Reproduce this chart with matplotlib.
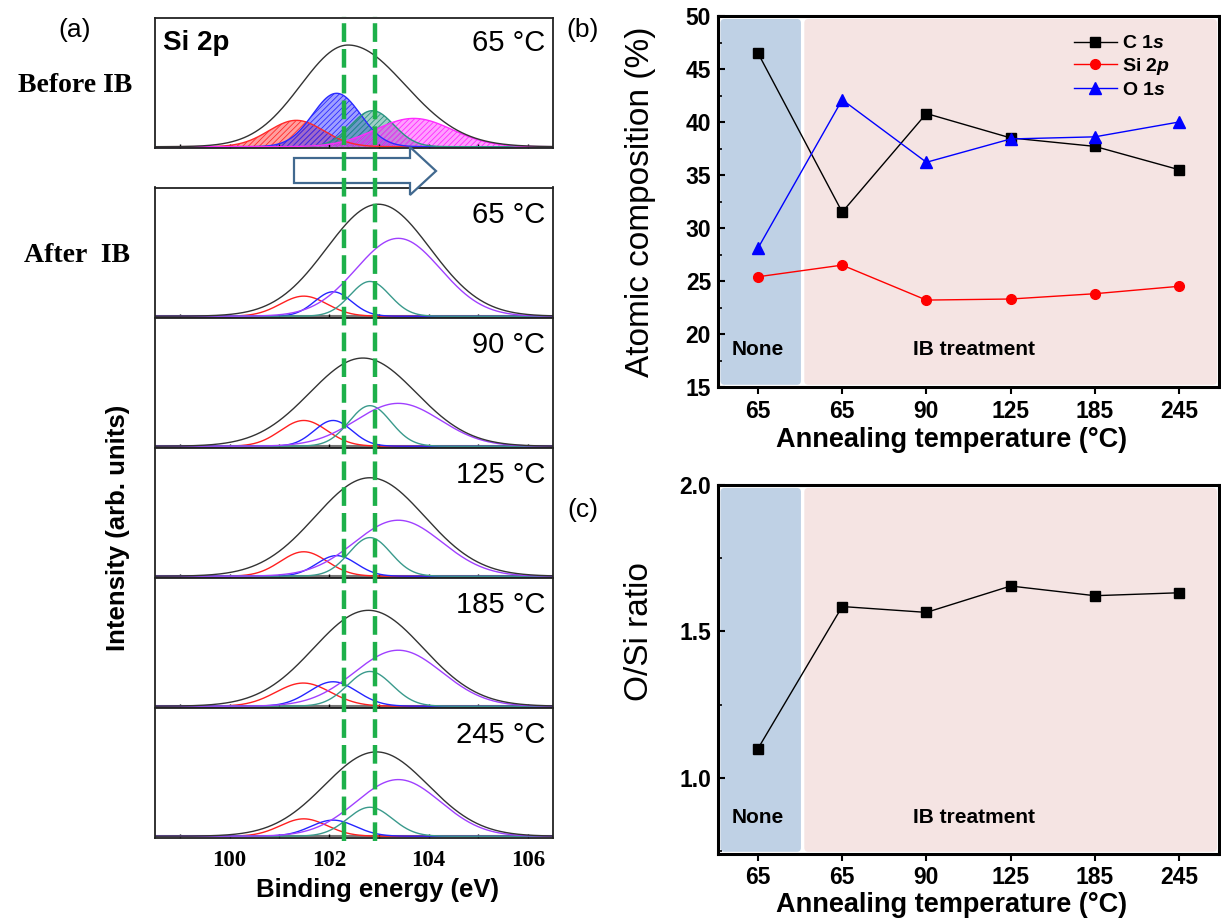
import matplotlib.pyplot as plt
import numpy as np
from matplotlib.patches import FancyBboxPatch, Polygon
from matplotlib.ticker import MultipleLocator
from matplotlib.colors import to_rgba

plt.rcParams['font.family'] = ['Liberation Sans', 'DejaVu Sans']
plt.rcParams['mathtext.fontset'] = 'custom'
plt.rcParams['mathtext.rm'] = 'Liberation Sans:bold'
plt.rcParams['mathtext.it'] = 'Liberation Sans:bold:italic'
plt.rcParams['hatch.linewidth'] = 0.6

W, H = 1221, 919

# ---------------- (a) Si 2p peak fits ----------------
# center (eV), height (fraction of panel), sigma (eV)
be_lim = (98.5, 106.5)
ref_lines = [102.3, 102.93]

# before IB (65 °C), hatched components
pre_colors = ["#ff2a2a", "#2a2aff", "#2a9482", "#ff2aff"]
pre_c = [101.34, 102.15, 102.87, 103.70]
pre_h = [0.205, 0.415, 0.28, 0.22]
pre_s = [0.55, 0.48, 0.43, 0.77]
pre_env_c, pre_env_h = 102.38, 0.79
pre_env_sl, pre_env_sr = 0.95, 1.15

# after IB, one entry per temperature
ib_temps = ["65 °C", "90 °C", "125 °C", "185 °C", "245 °C"]
env_c = [102.99, 102.68, 102.82, 102.79, 102.95]
env_h = [0.87, 0.685, 0.765, 0.745, 0.655]
env_s = [1.04, 1.07, 1.10, 1.10, 1.04]
purple_c = [103.39, 103.39, 103.39, 103.39, 103.39]
purple_h = [0.605, 0.333, 0.435, 0.435, 0.44]
purple_s = [0.85, 0.85, 0.88, 0.88, 0.85]
teal_c = [102.82, 102.82, 102.82, 102.82, 102.82]
teal_h = [0.27, 0.315, 0.30, 0.27, 0.225]
teal_s = [0.40, 0.42, 0.42, 0.45, 0.45]
blue_c = [102.08, 102.08, 102.15, 102.08, 102.08]
blue_h = [0.19, 0.20, 0.16, 0.19, 0.125]
blue_s = [0.37, 0.38, 0.40, 0.48, 0.45]
red_c = [101.49, 101.49, 101.49, 101.48, 101.49]
red_h = [0.156, 0.20, 0.19, 0.18, 0.135]
red_s = [0.47, 0.47, 0.47, 0.55, 0.47]

# ---------------- (b), (c) composition ----------------
cat_labels = ["65", "65", "90", "125", "185", "245"]
c1s = [46.5, 31.5, 40.8, 38.5, 37.7, 35.5]
si2p = [25.4, 26.5, 23.2, 23.3, 23.8, 24.5]
o1s = [28.1, 42.1, 36.2, 38.4, 38.6, 40.0]
o_si = [1.10, 1.585, 1.565, 1.655, 1.622, 1.632]


def gauss(x, c, h, s):
    return h * np.exp(-(x - c) ** 2 / (2 * s ** 2))


def px_axes(x0, y0, x1, y1):
    return fig.add_axes([x0 / W, 1 - y1 / H, (x1 - x0) / W, (y1 - y0) / H])


fig = plt.figure(figsize=(W / 100, H / 100), dpi=100)
be = np.linspace(be_lim[0], be_lim[1], 800)


def style_spec_ax(ax, last=False):
    ax.set_xlim(be_lim)
    ax.set_ylim(-0.01, 1)
    ax.set_yticks([])
    ax.xaxis.set_major_locator(MultipleLocator(2))
    ax.xaxis.set_minor_locator(MultipleLocator(1))
    ax.tick_params(axis='x', which='both', direction='in', length=3, width=1,
                   labelbottom=False)
    for sp in ax.spines.values():
        sp.set_linewidth(1.3)
        sp.set_color('#222222')
    if last:
        for t in [100, 102, 104, 106]:
            ax.text(t, -0.1, str(t), ha='center', va='top', fontsize=16.5,
                    fontweight='bold', family='Liberation Serif',
                    transform=ax.get_xaxis_transform())


# top panel, before IB
ax0 = px_axes(155, 18, 553, 148)
for col, c, h, s in zip(pre_colors, pre_c, pre_h, pre_s):
    y = gauss(be, c, h, s)
    ax0.fill_between(be, 0, y, facecolor=to_rgba(col, 0.45), edgecolor=col,
                     hatch='//////', linewidth=0)
    ax0.plot(be, y, color=col, lw=1)
env = np.where(be < pre_env_c,
               gauss(be, pre_env_c, pre_env_h, pre_env_sl),
               gauss(be, pre_env_c, pre_env_h, pre_env_sr))
ax0.plot(be, env, color='#333333', lw=1)
style_spec_ax(ax0)
ax0.text(0.02, 0.81, "Si 2p", transform=ax0.transAxes, ha='left', va='center',
         fontsize=20, fontweight='bold')
ax0.text(0.98, 0.81, "65 °C", transform=ax0.transAxes, ha='right', va='center',
         fontsize=21)

# after IB panels
for k, temp in enumerate(ib_temps):
    ax = px_axes(155, 187.5 + 130 * k, 553, 317.5 + 130 * k)
    ax.plot(be, gauss(be, red_c[k], red_h[k], red_s[k]), color='#ff2020', lw=1)
    ax.plot(be, gauss(be, blue_c[k], blue_h[k], blue_s[k]), color='#2525ff', lw=1)
    ax.plot(be, gauss(be, teal_c[k], teal_h[k], teal_s[k]), color='#3a9a8c', lw=1)
    ax.plot(be, gauss(be, purple_c[k], purple_h[k], purple_s[k]), color='#a040ff', lw=1)
    ax.plot(be, gauss(be, env_c[k], env_h[k], env_s[k]), color='#333333', lw=1)
    ax.axhline(0, color='#777777', lw=1.5, zorder=0)
    style_spec_ax(ax, last=(k == len(ib_temps) - 1))
    ax.text(0.98, 0.79, temp, transform=ax.transAxes, ha='right', va='center',
            fontsize=21)

# arrow and dashed reference lines on top
ov = fig.add_axes([0, 0, 1, 1])
ov.set_xlim(0, W)
ov.set_ylim(H, 0)
ov.axis('off')
ov.patch.set_alpha(0)
arrow_pts = [(294, 158), (410, 158), (410, 147), (436, 171),
             (410, 195), (410, 183), (294, 183)]
ov.add_patch(Polygon(arrow_pts, closed=True, facecolor='white',
                     edgecolor='#41698f', lw=1.6))

gl = px_axes(155, 16, 553, 841)
gl.set_xlim(be_lim)
gl.set_ylim(0, 1)
gl.axis('off')
gl.patch.set_alpha(0)
for xv in ref_lines:
    gl.axvline(xv, color='#1db04a', lw=3.2, dashes=(4.2, 1.6))

fig.text(75 / W, 1 - 30 / H, "(a)", fontsize=19, ha='center', va='center')
fig.text(75 / W, 1 - 85 / H, "Before IB", fontsize=20, fontweight='bold',
         family='Liberation Serif', ha='center', va='center')
fig.text(77 / W, 1 - 255 / H, "After  IB", fontsize=20, fontweight='bold',
         family='Liberation Serif', ha='center', va='center')
fig.text(118 / W, 1 - 528 / H, "Intensity (arb. units)", fontsize=18.5,
         fontweight='bold', rotation=90, ha='center', va='center')
fig.text(378 / W, 1 - 890 / H, "Binding energy (eV)", fontsize=18.5,
         fontweight='bold', ha='center', va='center')

# ---------------- right panels ----------------
xi = np.arange(len(cat_labels))
xlo, xhi = -0.475, 5.475


def style_comp_ax(ax, y0, y1, major, minor):
    ax.set_xlim(xlo, xhi)
    ax.set_ylim(y0, y1)
    ax.set_xticks(xi)
    ax.set_xticklabels(cat_labels)
    ax.yaxis.set_major_locator(MultipleLocator(major))
    ax.yaxis.set_minor_locator(MultipleLocator(minor))
    ax.tick_params(axis='x', direction='out', length=5, width=1.5, pad=4)
    ax.tick_params(axis='y', which='major', direction='in', length=5, width=1.5, pad=5)
    ax.tick_params(axis='y', which='minor', direction='in', length=3, width=1.2)
    ax.tick_params(axis='x', which='minor', bottom=False)
    for lab in ax.get_xticklabels() + ax.get_yticklabels():
        lab.set_fontsize(16.5)
        lab.set_fontweight('bold')
    for sp in ax.spines.values():
        sp.set_linewidth(2.2)
    # shaded regions with rounded corners
    bb = ax.get_position()
    asp = (bb.width * W) / (bb.height * H)
    fr = lambda v: (v - xlo) / (xhi - xlo)
    ax.add_patch(FancyBboxPatch((0.005, 0.006), fr(0.51) - 0.005, 0.986,
                                boxstyle="round,pad=0,rounding_size=0.008",
                                mutation_aspect=asp, transform=ax.transAxes,
                                facecolor='#bfd1e5', edgecolor='none', zorder=0))
    ax.add_patch(FancyBboxPatch((fr(0.55), 0.006), 0.996 - fr(0.55), 0.986,
                                boxstyle="round,pad=0,rounding_size=0.008",
                                mutation_aspect=asp, transform=ax.transAxes,
                                facecolor='#f5e4e3', edgecolor='none', zorder=0))
    tr = ax.get_xaxis_transform()
    ax.text(0, 0.1, "None", transform=tr, ha='center', va='center',
            fontsize=15, fontweight='bold')
    ax.text(2.56, 0.1, "IB treatment", transform=tr, ha='center', va='center',
            fontsize=15, fontweight='bold')


axb = px_axes(718, 16, 1219, 387)
axb.plot(xi, c1s, color='black', lw=1, marker='s', ms=7, label="C 1$s$")
axb.plot(xi, si2p, color='red', lw=1, marker='o', ms=7, label="Si 2$p$")
axb.plot(xi, o1s, color='blue', lw=1, marker='^', ms=8.5, label="O 1$s$")
style_comp_ax(axb, 15, 50, 5, 2.5)
axb.legend(loc='upper left', bbox_to_anchor=(1064 / W, 1 - 25 / H),
           bbox_transform=fig.transFigure, frameon=False, handlelength=2.2,
           handletextpad=0.3, labelspacing=0.2, borderpad=0,
           prop={'size': 14, 'weight': 'bold'})

axc = px_axes(718, 485, 1219, 854)
axc.plot(xi, o_si, color='black', lw=1, marker='s', ms=7)
style_comp_ax(axc, 0.74, 2.0, 0.5, 0.25)

fig.text(583 / W, 1 - 30 / H, "(b)", fontsize=19, ha='center', va='center')
fig.text(583 / W, 1 - 510 / H, "(c)", fontsize=19, ha='center', va='center')
fig.text(640 / W, 1 - 202 / H, "Atomic composition (%)", fontsize=24,
         rotation=90, ha='center', va='center')
fig.text(640 / W, 1 - 632 / H, "O/Si ratio", fontsize=24,
         rotation=90, ha='center', va='center')
fig.text(952 / W, 1 - 440 / H, "Annealing temperature (°C)", fontsize=19.5,
         fontweight='bold', ha='center', va='center')
fig.text(952 / W, 1 - 905 / H, "Annealing temperature (°C)", fontsize=19.5,
         fontweight='bold', ha='center', va='center')

fig.savefig("out.png", dpi=100)
